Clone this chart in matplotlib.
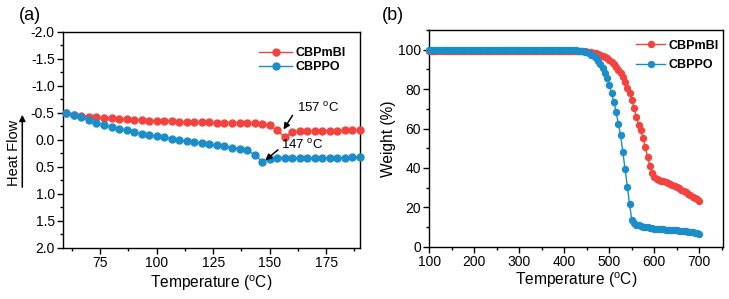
import numpy as np
import matplotlib
matplotlib.use("Agg")
import matplotlib.pyplot as plt
from matplotlib.ticker import MultipleLocator, FormatStrFormatter

plt.rcParams['font.family'] = ['Liberation Sans', 'DejaVu Sans']
plt.rcParams['mathtext.default'] = 'regular'

# --------------------------------
# Data (a) DSC
# --------------------------------

dsc_temp = np.linspace(60, 190, 40)

dsc_cbpmbi = [
    -0.50, -0.47, -0.45, -0.43, -0.42, -0.41, -0.40, -0.39, -0.38, -0.37,
    -0.37, -0.36, -0.36, -0.35, -0.35, -0.34, -0.34, -0.33, -0.33, -0.33,
    -0.32, -0.32, -0.32, -0.31, -0.31, -0.31, -0.30, -0.27, -0.18, -0.05,
    -0.15, -0.16, -0.16, -0.17, -0.17, -0.17, -0.17, -0.18, -0.18, -0.18,
]

dsc_cbppo = [
    -0.50, -0.46, -0.42, -0.37, -0.32, -0.28, -0.24, -0.21, -0.18, -0.15,
    -0.12, -0.10, -0.07, -0.05, -0.02, 0.00, 0.02, 0.04, 0.06, 0.08,
    0.10, 0.12, 0.14, 0.16, 0.19, 0.27, 0.40, 0.35, 0.34, 0.34,
    0.34, 0.34, 0.34, 0.33, 0.33, 0.33, 0.33, 0.33, 0.32, 0.32,
]

# --------------------------------
# Data (b) TGA
# --------------------------------

tga_temp = np.arange(100, 701, 5)

tga_cbpmbi = [99.4] * 67 + [
    99.3, 99.2, 99.1, 99.0, 98.9, 98.7, 98.5, 98.2, 97.8, 97.4,
    96.9, 96.3, 95.6, 94.8, 93.8, 92.6, 91.3, 89.8, 88.0, 86.0,
    83.6, 80.8, 78.0, 74.5, 70.5, 66.0, 62.0, 59.0, 55.0, 50.5,
    45.5, 41.0, 37.5, 35.5, 34.6, 34.0, 33.6, 33.2, 32.9, 32.5,
    32.0, 31.5, 30.9, 30.3, 29.7, 29.0, 28.3, 27.6, 26.9, 26.1,
    25.4, 24.7, 24.0, 23.4,
]

tga_cbppo = [100.0] * 61 + [
    100.0, 99.9, 99.9, 99.8, 99.7, 99.6, 99.5,
    99.3, 99.0, 98.6, 98.1, 97.5, 96.8, 95.8, 94.5, 92.8, 90.8,
    88.3, 85.4, 82.0, 78.0, 73.5, 68.5, 62.5, 56.5, 48.0, 39.5,
    30.5, 21.5, 13.5, 12.0, 11.2, 10.8, 10.5, 10.2, 10.0, 9.8,
    9.6, 9.4, 9.2, 9.1, 9.0, 8.9, 8.8, 8.7, 8.6, 8.6,
    8.5, 8.4, 8.3, 8.2, 8.1, 8.0, 7.9, 7.7, 7.5, 7.3,
    7.1, 6.9, 6.7,
]

series_names = ["CBPmBI", "CBPPO"]
red = "#F4433F"
blue = "#1B8DC9"


def style_axes(ax):
    for s in ax.spines.values():
        s.set_linewidth(1.0)
    ax.tick_params(which='both', direction='out', width=1.0,
                   top=False, right=False, labelsize=10, pad=2)
    ax.tick_params(which='major', length=4)
    ax.tick_params(which='minor', length=2.5)


fig = plt.figure(figsize=(7.29, 2.99), dpi=100)

# --------------------------------
# (a) DSC
# --------------------------------

ax1 = fig.add_axes([0.0864, 0.1706, 0.4074, 0.7224])
ax1.plot(dsc_temp, dsc_cbpmbi, '-o', color=red, lw=1.0, ms=5,
         label=series_names[0], clip_on=False, zorder=3)
ax1.plot(dsc_temp, dsc_cbppo, '-o', color=blue, lw=1.0, ms=5,
         label=series_names[1], clip_on=False, zorder=3)
ax1.set_xlim(58.5, 190)
ax1.set_ylim(2.0, -2.0)
ax1.xaxis.set_major_locator(MultipleLocator(25))
ax1.xaxis.set_minor_locator(MultipleLocator(12.5))
ax1.yaxis.set_major_locator(MultipleLocator(0.5))
ax1.yaxis.set_minor_locator(MultipleLocator(0.25))
ax1.yaxis.set_major_formatter(FormatStrFormatter('%.1f'))
style_axes(ax1)
ax1.set_xlabel('Temperature ($^{o}$C)', fontsize=11.2, labelpad=2)

ax1.annotate('', xy=(155.5, -0.15), xytext=(160.8, -0.50),
             arrowprops=dict(arrowstyle='-|>', color='k', lw=1.1,
                             mutation_scale=9))
ax1.text(162.2, -0.59, '157 $^{o}$C', fontsize=9.5, ha='left', va='center')
ax1.annotate('', xy=(147.1, 0.41), xytext=(154.6, 0.15),
             arrowprops=dict(arrowstyle='-|>', color='k', lw=1.1,
                             mutation_scale=9))
ax1.text(155.0, 0.09, '147 $^{o}$C', fontsize=9.5, ha='left', va='center')

ax1.legend(loc='upper left', bbox_to_anchor=(0.64, 0.96), frameon=False,
           borderpad=0, handlelength=2.6, handletextpad=0.3,
           labelspacing=0.2, prop={'weight': 'bold', 'size': 9})

# Heat Flow label with exo-up arrow
fig.text(14 / 729, 1 - 152.5 / 299, 'Heat Flow', rotation=90,
         fontsize=10.5, ha='center', va='center')
fig.add_artist(matplotlib.patches.FancyArrowPatch(
    (22.3 / 729, 1 - 190 / 299), (22.3 / 729, 1 - 112 / 299),
    transform=fig.transFigure, arrowstyle='-|>', mutation_scale=9,
    color='k', lw=1.1))

fig.text(30 / 729, 1 - 16 / 299, '(a)', fontsize=13, ha='center', va='center')

# --------------------------------
# (b) TGA
# --------------------------------

ax2 = fig.add_axes([0.5889, 0.1749, 0.4025, 0.7247])
ax2.plot(tga_temp, tga_cbpmbi, '-o', color=red, lw=1.0, ms=4.3,
         label=series_names[0], clip_on=False, zorder=3)
ax2.plot(tga_temp, tga_cbppo, '-o', color=blue, lw=1.0, ms=4.3,
         label=series_names[1], clip_on=False, zorder=3)
ax2.set_xlim(100, 752)
ax2.set_ylim(0, 110)
ax2.xaxis.set_major_locator(MultipleLocator(100))
ax2.xaxis.set_minor_locator(MultipleLocator(50))
ax2.yaxis.set_major_locator(MultipleLocator(20))
ax2.yaxis.set_minor_locator(MultipleLocator(10))
style_axes(ax2)
ax2.set_xlabel('Temperature ($^{o}$C)', fontsize=11.2, labelpad=1)
ax2.set_ylabel('Weight (%)', fontsize=11.2, labelpad=1)

ax2.legend(loc='upper left', bbox_to_anchor=(0.684, 0.985), frameon=False,
           borderpad=0, handlelength=2.3, handletextpad=0.3,
           labelspacing=0.6, prop={'weight': 'bold', 'size': 9})

fig.text(393 / 729, 1 - 16 / 299, '(b)', fontsize=13, ha='center', va='center')

fig.savefig('out.png', dpi=100)
